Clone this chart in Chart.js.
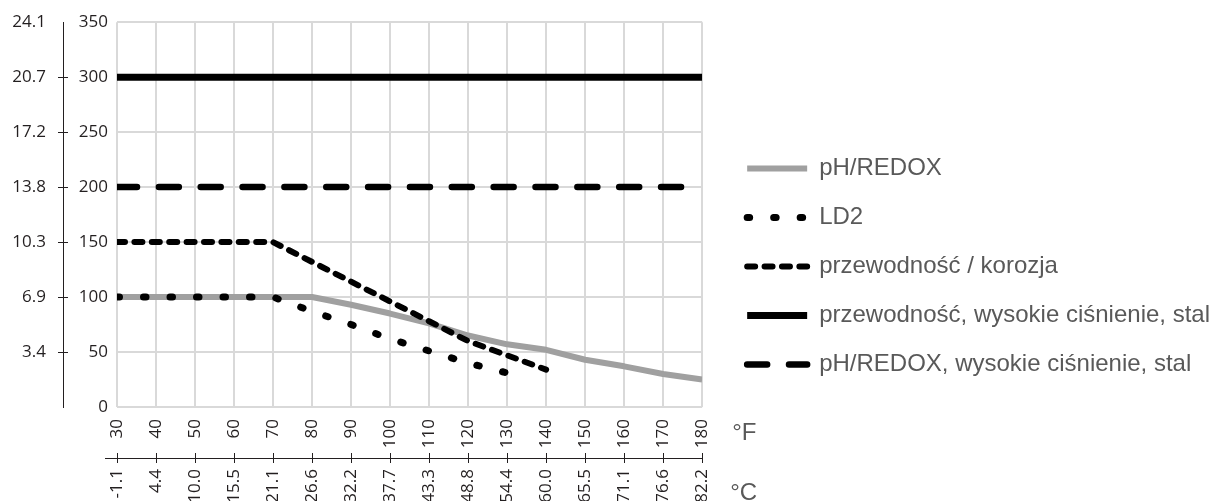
<!DOCTYPE html>
<html>
<head>
<meta charset="utf-8">
<script src="https://cdn.jsdelivr.net/npm/chart.js@4.4.1/dist/chart.umd.min.js"></script>
<style>
  html, body { margin: 0; padding: 0; background: #fff; }
  #wrap { width: 1213px; height: 501px; }
</style>
</head>
<body>
<div id="wrap"><canvas id="pressureChart" width="1213" height="501"></canvas></div>
<script>
// temperature axis (°F) and matching °C labels
const tempF = [30, 40, 50, 60, 70, 80, 90, 100, 110, 120, 130, 140, 150, 160, 170, 180]
const tempC = ['-1.1', '4.4', '10.0', '15.5', '21.1', '26.6', '32.2', '37.7', '43.3', '48.8', '54.4', '60.0', '65.5', '71.1', '76.6', '82.2']

// psi tick values and bar labels shown on the outer axis
const psiTicks = [0, 50, 100, 150, 200, 250, 300, 350]
const barLabels = ['', '3.4', '6.9', '10.3', '13.8', '17.2', '20.7', '24.1']

// series (psi)
const phRedox = [100, 100, 100, 100, 100, 100, 93, 85, 76, 65, 57, 52, 43, 37, 30, 25]

const ld2F = [30, 40, 50, 60, 70, 80, 90, 100, 110, 120, 130, 135]
const ld2 = [100, 100, 100, 100, 100, 87, 75, 62, 51, 40, 31, 25]

const korozjaF = [30, 40, 50, 60, 70, 80, 90, 100, 110, 120, 130, 140]
const korozja = [150, 150, 150, 150, 150, 132, 114, 96, 78, 60, 47, 34]

const hpCondF = [30, 180]
const hpCond = [300, 300]

const hpPhF = [30, 180]
const hpPh = [200, 200]

const seriesNames = [
  'pH/REDOX',
  'LD2',
  'przewodność / korozja',
  'przewodność, wysokie ciśnienie, stal',
  'pH/REDOX, wysokie ciśnienie, stal'
]

const toPoints = (xs, ys) => xs.map((x, i) => ({ x: x, y: ys[i] }))

const axisColor = '#231f20'
const gridColor = '#d9d9d9'
const tickFont = { family: '"Open Sans", sans-serif', size: 17 }

// little cross ticks + unit labels around the axes
const axisExtras = {
  id: 'axisExtras',
  afterDraw(chart) {
    const { ctx, scales } = chart
    const yBar = scales.yBar
    const xC = scales.xC
    const xF = scales.x
    ctx.save()
    ctx.strokeStyle = axisColor
    ctx.lineWidth = 1
    ctx.beginPath()
    yBar.ticks.forEach((t) => {
      if (t.value <= 0 || t.value >= 350) return
      const y = Math.round(yBar.getPixelForValue(t.value)) + 0.5
      ctx.moveTo(yBar.right, y)
      ctx.lineTo(yBar.right + 5, y)
    })
    xC.ticks.forEach((t) => {
      const x = Math.round(xC.getPixelForValue(t.value)) + 0.5
      ctx.moveTo(x, xC.top)
      ctx.lineTo(x, xC.top - 5)
    })
    const ay = Math.round(xC.top) + 0.5
    ctx.moveTo(xC.left - 12, ay)
    ctx.lineTo(xC.left, ay)
    ctx.stroke()

    ctx.fillStyle = '#595959'
    ctx.font = '24px "Liberation Sans", Arial, sans-serif'
    ctx.textBaseline = 'alphabetic'
    ctx.fillText('°F', xF.right + 30, xF.top + 33)
    ctx.fillText('°C', xF.right + 28, 500)
    ctx.restore()
  }
}

// push the legend a bit away from the plot
const legendShift = {
  id: 'legendShift',
  afterLayout(chart) {
    const lg = chart.legend
    if (!lg) return
    lg.left += 20
    lg.right += 20
    lg.top += 5
    lg.bottom += 5
  }
}

// legend samples with the dataset's own line style
function lineLegendLabels(chart) {
  return chart.data.datasets.map((ds, i) => ({
    text: ds.label,
    datasetIndex: i,
    fillStyle: ds.borderColor,
    strokeStyle: ds.borderColor,
    lineWidth: ds.borderWidth,
    lineDash: ds.borderDash || [],
    lineCap: ds.borderCapStyle,
    pointStyle: 'line',
    fontColor: '#595959',
    hidden: false
  }))
}

const ctx = document.getElementById('pressureChart').getContext('2d')
new Chart(ctx, {
  type: 'line',
  data: {
    datasets: [
      {
        label: seriesNames[0],
        data: toPoints(tempF, phRedox),
        borderColor: '#a0a0a0',
        backgroundColor: '#a0a0a0',
        borderWidth: 6,
        borderCapStyle: 'butt',
        order: 5
      },
      {
        label: seriesNames[1],
        data: toPoints(ld2F, ld2),
        borderColor: '#000',
        backgroundColor: '#000',
        borderWidth: 7,
        borderDash: [2.5, 24],
        borderCapStyle: 'round',
        order: 4
      },
      {
        label: seriesNames[2],
        data: toPoints(korozjaF, korozja),
        borderColor: '#000',
        backgroundColor: '#000',
        borderWidth: 6,
        borderDash: [8, 9.4],
        borderCapStyle: 'round',
        order: 3
      },
      {
        label: seriesNames[3],
        data: toPoints(hpCondF, hpCond),
        borderColor: '#000',
        backgroundColor: '#000',
        borderWidth: 7,
        borderCapStyle: 'butt',
        order: 2
      },
      {
        label: seriesNames[4],
        data: toPoints(hpPhF, hpPh),
        borderColor: '#000',
        backgroundColor: '#000',
        borderWidth: 6.5,
        borderDash: [20, 21.85],
        borderCapStyle: 'round',
        order: 1
      }
    ]
  },
  options: {
    responsive: false,
    animation: false,
    devicePixelRatio: 1,
    elements: {
      point: { radius: 0, hoverRadius: 0 },
      line: { tension: 0, borderJoinStyle: 'round' }
    },
    layout: { padding: { top: 22, right: 13, bottom: 0, left: 0 } },
    plugins: {
      title: { display: false },
      tooltip: { enabled: false },
      legend: {
        position: 'right',
        align: 'center',
        maxWidth: 498,
        labels: {
          usePointStyle: true,
          pointStyle: 'line',
          pointStyleWidth: 60,
          padding: 25,
          color: '#595959',
          font: { family: '"Liberation Sans", Arial, sans-serif', size: 24 },
          generateLabels: lineLegendLabels
        }
      }
    },
    scales: {
      x: {
        type: 'linear',
        position: 'bottom',
        min: tempF[0],
        max: tempF[tempF.length - 1],
        afterFit: (scale) => { scale.height = 51 },
        ticks: {
          stepSize: 10,
          autoSkip: false,
          minRotation: 90,
          maxRotation: 90,
          padding: 12,
          color: axisColor,
          font: tickFont
        },
        grid: { color: gridColor, lineWidth: 2, drawTicks: false },
        border: { display: false }
      },
      xC: {
        type: 'linear',
        position: 'bottom',
        min: tempF[0],
        max: tempF[tempF.length - 1],
        afterFit: (scale) => { scale.height = 43 },
        ticks: {
          stepSize: 10,
          autoSkip: false,
          minRotation: 90,
          maxRotation: 90,
          padding: 6,
          color: axisColor,
          font: tickFont,
          callback: (v) => tempC[tempF.indexOf(v)]
        },
        grid: { drawOnChartArea: false, drawTicks: true, tickLength: 5, color: axisColor, lineWidth: 1 },
        border: { display: true, color: axisColor, width: 1 }
      },
      y: {
        type: 'linear',
        position: 'left',
        min: psiTicks[0],
        max: psiTicks[psiTicks.length - 1],
        afterFit: (scale) => { scale.width = 54 },
        ticks: {
          stepSize: 50,
          padding: 9,
          color: axisColor,
          font: tickFont
        },
        grid: { color: gridColor, lineWidth: 2, drawTicks: false },
        border: { display: false }
      },
      yBar: {
        type: 'linear',
        position: 'left',
        min: psiTicks[0],
        max: psiTicks[psiTicks.length - 1],
        afterFit: (scale) => { scale.width = 63 },
        ticks: {
          stepSize: 50,
          padding: 12,
          color: axisColor,
          font: tickFont,
          callback: (v) => barLabels[psiTicks.indexOf(v)]
        },
        grid: {
          drawOnChartArea: false,
          drawTicks: true,
          tickLength: 5,
          lineWidth: 1,
          tickColor: (c) => (c.tick && c.tick.value > 0 && c.tick.value < 350) ? axisColor : 'rgba(0,0,0,0)'
        },
        border: { display: true, color: axisColor, width: 1 }
      }
    }
  },
  plugins: [axisExtras, legendShift]
})
</script>
</body>
</html>
